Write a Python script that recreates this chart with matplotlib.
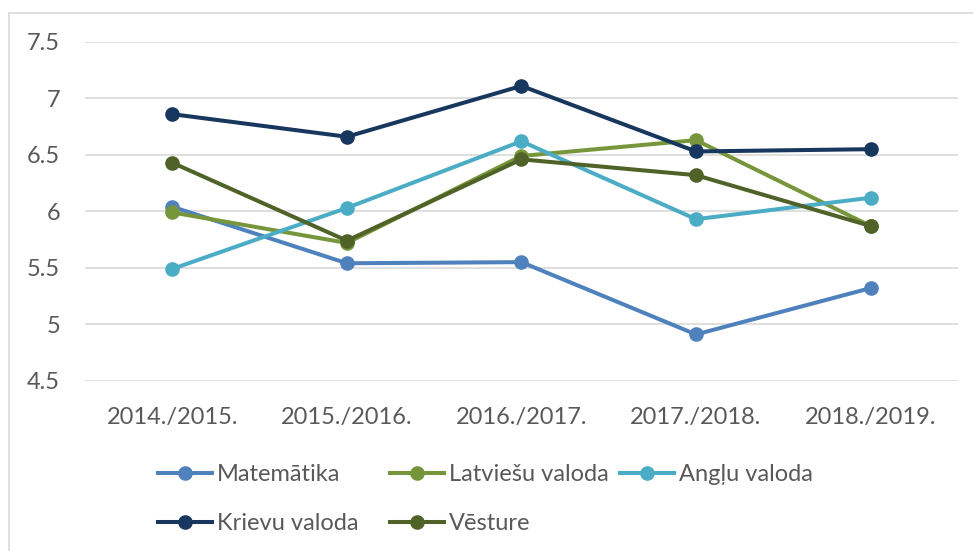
import matplotlib.pyplot as plt
from matplotlib.patches import Rectangle
from matplotlib.ticker import FuncFormatter

plt.rcParams['font.family'] = ['Lato', 'DejaVu Sans']

# dati
years = ['2014./2015.', '2015./2016.', '2016./2017.', '2017./2018.', '2018./2019.']
matematika = [6.04, 5.54, 5.55, 4.91, 5.32]
latviesu = [5.99, 5.72, 6.49, 6.63, 5.87]
anglu = [5.49, 6.03, 6.62, 5.93, 6.12]
krievu = [6.86, 6.66, 7.11, 6.53, 6.55]
vesture = [6.43, 5.74, 6.46, 6.32, 5.87]

series = [
    ('Matemātika', matematika, '#4F81BD'),
    ('Latviešu valoda', latviesu, '#77963C'),
    ('Angļu valoda', anglu, '#4BACC6'),
    ('Krievu valoda', krievu, '#17375E'),
    ('Vēsture', vesture, '#4F6228'),
]

fig = plt.figure(figsize=(9.73, 5.51), dpi=100)
ax = fig.add_axes([0.0874, 0.309, 0.897, 0.615])

# rāmis ap diagrammu
fig.patches.append(Rectangle((8.5 / 973, -0.1), 1.1, 1.1 - 12.5 / 551,
                             transform=fig.transFigure, fill=False,
                             edgecolor='#D9D9D9', linewidth=1.2))

x = range(len(years))
lines = {}
for name, vals, col in series:
    lines[name], = ax.plot(x, vals, color=col, linewidth=2.9, marker='o',
                           markersize=9.5, label=name)

ax.set_xlim(-0.5, len(years) - 0.5)
ax.set_ylim(4.5, 7.5)
ax.set_yticks([4.5, 5, 5.5, 6, 6.5, 7, 7.5])
ax.yaxis.set_major_formatter(FuncFormatter(lambda v, _: f'{v:g}'))
ax.set_xticks(list(x))
ax.set_xticklabels(years)
ax.grid(axis='y', color='#D9D9D9', linewidth=1.2)
ax.set_axisbelow(True)
for s in ax.spines.values():
    s.set_visible(False)
ax.tick_params(length=0, labelsize=17, labelcolor='#595959')
ax.tick_params(axis='x', pad=19)
ax.tick_params(axis='y', pad=18)

# leģenda: trīs kolonnas ar vienādu platumu (kā Excel)
columns = [['Matemātika', 'Krievu valoda'], ['Latviešu valoda', 'Vēsture'], ['Angļu valoda']]
col_x = [158, 390, 620]
for names, cx in zip(columns, col_x):
    fig.legend([lines[n] for n in names], names, frameon=False,
               loc='upper left', bbox_to_anchor=(cx / 973, 1 - 464 / 551),
               fontsize=17, labelcolor='#595959', handlelength=2.3,
               handletextpad=0.2, labelspacing=1.2,
               borderaxespad=0, borderpad=0)

fig.savefig('out.png', dpi=100)
